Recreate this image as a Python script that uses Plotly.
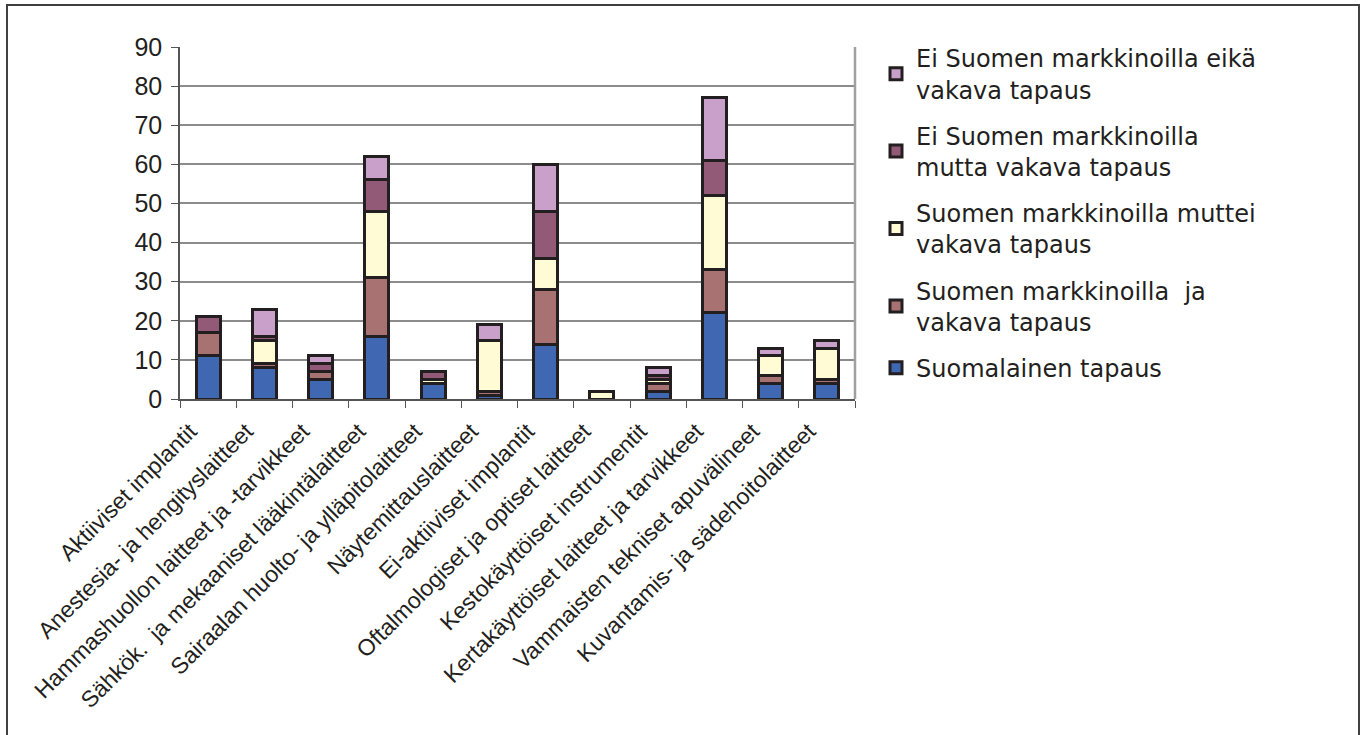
import plotly.graph_objects as go

categories = [
    "Aktiiviset implantit",
    "Anestesia- ja hengityslaitteet",
    "Hammashuollon laitteet ja -tarvikkeet",
    "Sähkök.  ja mekaaniset lääkintälaitteet",
    "Sairaalan huolto- ja ylläpitolaitteet",
    "Näytemittauslaitteet",
    "Ei-aktiiviset implantit",
    "Oftalmologiset ja optiset laitteet",
    "Kestokäyttöiset instrumentit",
    "Kertakäyttöiset laitteet ja tarvikkeet",
    "Vammaisten tekniset apuvälineet",
    "Kuvantamis- ja sädehoitolaitteet",
]

suomalainen = [11, 8, 5, 16, 4, 1, 14, 0, 2, 22, 4, 4]
markkinoilla_vakava = [6, 1, 2, 15, 0, 1, 14, 0, 2, 11, 2, 1]
markkinoilla_ei_vakava = [0, 6, 0, 17, 1, 13, 8, 2, 1, 19, 5, 8]
ei_markkinoilla_vakava = [4, 1, 2, 8, 2, 0, 12, 0, 1, 9, 0, 0]
ei_markkinoilla_ei_vakava = [0, 7, 2, 6, 0, 4, 12, 0, 2, 16, 2, 2]

series_names = [
    "Suomalainen tapaus",
    "Suomen markkinoilla  ja<br>vakava tapaus",
    "Suomen markkinoilla muttei<br>vakava tapaus",
    "Ei Suomen markkinoilla<br>mutta vakava tapaus",
    "Ei Suomen markkinoilla eikä<br>vakava tapaus",
]
series_values = [suomalainen, markkinoilla_vakava, markkinoilla_ei_vakava,
                 ei_markkinoilla_vakava, ei_markkinoilla_ei_vakava]
series_colors = ["#4068B2", "#A87273", "#FFFBD4", "#935A78", "#C9A0CA"]

W, H = 1361, 735
L, R, T, B = 180, 855, 47, 399

fig = go.Figure()
n = len(series_names)
for i, (name, vals, col) in enumerate(zip(series_names, series_values, series_colors)):
    fig.add_trace(go.Bar(
        x=categories, y=vals, name=name, legendgroup=f"g{i}", legendrank=n - i,
        marker=dict(color=col, line=dict(color="#231F20", width=3)),
    ))

pw, ph = R - L, B - T

def px(x):
    return (x - L) / pw

def py(y):
    return (B - y) / ph

fig.update_layout(
    width=W, height=H,
    margin=dict(l=L, r=W - R, t=T, b=H - B, autoexpand=False),
    barmode="stack", bargap=0.57,
    plot_bgcolor="white", paper_bgcolor="white",
    font=dict(family="Liberation Sans, Arial, sans-serif", color="#231F20"),
    legend=dict(
        x=px(876), y=py(36), xanchor="left", yanchor="top",
        traceorder="grouped", tracegroupgap=12,
        font=dict(family="DejaVu Sans, sans-serif", size=24, color="#231F20"),
        itemwidth=30, bgcolor="rgba(0,0,0,0)",
    ),
    xaxis=dict(
        showline=True, linecolor="#555555", linewidth=1.5,
        ticks="outside", tickson="boundaries", ticklen=7, tickcolor="#555555",
        tickangle=-45, tickfont=dict(size=23, color="#231F20"),
        ticklabelshift=-18, ticklabelstandoff=8,
        showgrid=False, fixedrange=True,
    ),
    yaxis=dict(
        range=[0, 90], dtick=10, showline=True, linecolor="#555555", linewidth=1.5,
        ticks="outside", ticklen=7, tickcolor="#555555",
        tickfont=dict(size=25, color="#231F20"), ticklabelstandoff=4,
        showgrid=True, gridcolor="#8C8C8C", gridwidth=1.5,
        zeroline=False, fixedrange=True,
    ),
    shapes=[
        dict(type="line", xref="paper", yref="paper", x0=1, x1=1, y0=0, y1=1,
             line=dict(color="#A0A0A0", width=2.5)),
        dict(type="rect", xref="paper", yref="paper",
             x0=px(7), x1=px(1359), y0=py(760), y1=py(5),
             line=dict(color="#404040", width=2), fillcolor="rgba(0,0,0,0)", layer="below"),
    ],
)

fig.write_html(
    "out.html",
    config={"displayModeBar": False},
    post_script="document.body.style.margin='0px';document.body.style.overflow='hidden';",
)
